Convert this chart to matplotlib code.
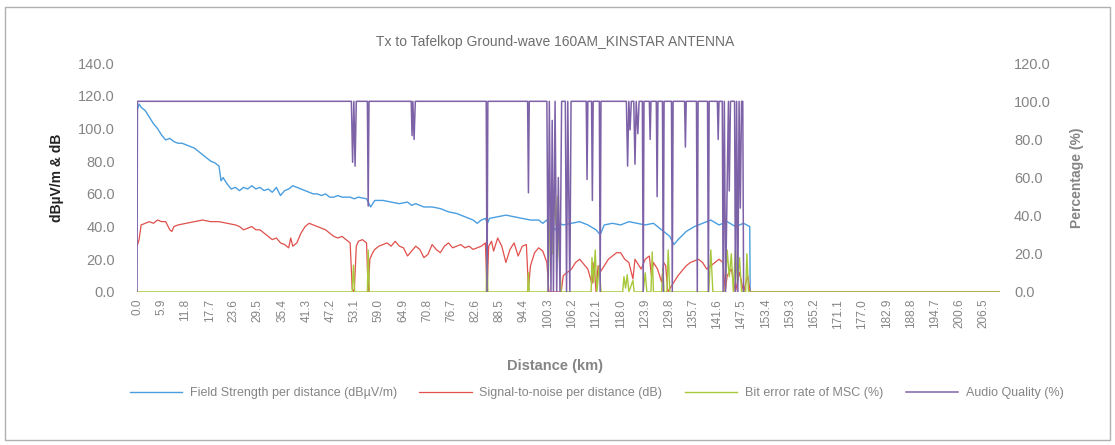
import matplotlib
matplotlib.use("Agg")
import matplotlib.pyplot as plt
from matplotlib.patches import Rectangle

plt.rcParams['font.family'] = ['Liberation Sans', 'DejaVu Sans']

# ---- data (distance in km) ----
fs_km = [0.0, 0.5, 1.0, 2.0, 3.0, 4.0, 5.0, 6.0, 7.0, 8.0, 9.0, 10.0, 11.0, 12.0, 13.0, 14.0,
         15.0, 16.0, 17.0, 18.0, 19.0, 20.0, 20.5, 21.0, 22.0, 23.0, 24.0, 25.0, 26.0, 27.0,
         28.0, 29.0, 30.0, 31.0, 32.0, 33.0, 34.0, 35.0, 36.0, 37.0, 38.0, 39.0, 40.0, 41.0,
         42.0, 43.0, 44.0, 45.0, 46.0, 47.0, 48.0, 49.0, 50.0, 52.0, 53.0, 54.0, 56.0, 57.0,
         58.0, 60.0, 62.0, 64.0, 66.0, 67.0, 68.0, 70.0, 72.0, 74.0, 76.0, 78.0, 80.0, 82.0,
         83.0, 84.0, 85.0, 85.5, 86.0, 88.0, 90.0, 92.0, 94.0, 96.0, 98.0, 99.0, 100.0, 101.0,
         102.0, 103.0, 104.0, 106.0, 108.0, 110.0, 112.0, 113.0, 114.0, 116.0, 118.0, 120.0,
         122.0, 124.0, 126.0, 128.0, 130.0, 131.0, 132.0, 134.0, 136.0, 138.0, 140.0, 142.0,
         144.0, 146.0, 148.0, 149.5, 149.6, 210.6]
fs_val = [111, 115, 113, 111, 107, 103, 100, 96, 93, 94, 92, 91, 91, 90, 89, 88,
          86, 84, 82, 80, 79, 77, 68, 70, 66, 63, 64, 62, 64, 63,
          65, 63, 64, 62, 63, 61, 64, 59, 62, 63, 65, 64, 63, 62,
          61, 60, 60, 59, 60, 58, 58, 59, 58, 58, 57, 58, 57, 52,
          56, 56, 55, 54, 55, 53, 54, 52, 52, 51, 49, 48, 46, 44,
          42, 44, 45, 42, 45, 46, 47, 46, 45, 44, 44, 42, 44, 40,
          38, 42, 41, 42, 43, 41, 38, 35, 41, 42, 41, 43,
          42, 41, 42, 38, 34, 29, 32, 37, 40, 42, 44, 41,
          43, 40, 42, 40, 0, 0]

snr_km = [0.0, 0.5, 1.0, 2.0, 3.0, 4.0, 5.0, 6.0, 7.0, 8.0, 8.5, 9.0, 10.0, 12.0, 14.0, 16.0,
          18.0, 20.0, 22.0, 24.0, 25.0, 26.0, 27.0, 28.0, 29.0, 30.0, 31.0, 32.0, 33.0, 34.0,
          35.0, 36.0, 37.0, 37.5, 38.0, 39.0, 40.0, 41.0, 42.0, 43.0, 44.0, 45.0, 46.0, 47.0,
          48.0, 49.0, 50.0, 51.0, 52.0, 52.5, 53.0, 53.5, 54.0, 55.0, 56.0, 56.4, 56.8, 57.5,
          58.0, 59.0, 60.0, 61.0, 62.0, 63.0, 64.0, 65.0, 66.0, 67.0, 68.0, 69.0, 70.0, 71.0,
          72.0, 73.0, 74.0, 75.0, 76.0, 77.0, 78.0, 79.0, 80.0, 81.0, 82.0, 83.0, 84.0, 85.0,
          85.4, 85.8, 86.5, 87.0, 88.0, 89.0, 90.0, 91.0, 92.0, 93.0, 94.0, 95.0, 95.5, 96.0,
          97.0, 98.0, 99.0, 100.0, 100.5, 103.5, 104.0, 105.0, 106.0, 107.0, 108.0, 109.0,
          110.0, 111.0, 111.5, 112.0, 112.5, 113.0, 114.0, 115.0, 116.0, 117.0, 118.0, 119.0,
          120.0, 121.0, 121.5, 122.0, 123.0, 124.0, 125.0, 125.5, 126.0, 127.0, 128.0, 128.5,
          129.0, 129.5, 130.0, 131.0, 132.0, 133.0, 134.0, 135.0, 136.0, 137.0, 138.0, 139.0,
          140.0, 141.0, 142.0, 143.0, 143.5, 144.0, 145.0, 146.0, 147.0, 148.0, 149.0, 149.6,
          210.6]
snr_val = [28, 32, 41, 42, 43, 42, 44, 43, 43, 38, 37, 40, 41, 42, 43, 44,
           43, 43, 42, 41, 40, 38, 39, 40, 38, 38, 36, 34, 32, 33,
           30, 29, 27, 33, 28, 30, 36, 40, 42, 41, 40, 39, 38, 36,
           34, 33, 34, 32, 30, 2, 0, 28, 31, 32, 30, 0, 20, 24,
           26, 28, 29, 30, 28, 31, 28, 27, 22, 25, 28, 26, 21, 23,
           29, 26, 24, 28, 30, 27, 28, 29, 27, 28, 26, 27, 28, 30,
           0, 28, 31, 25, 33, 28, 18, 26, 30, 22, 28, 29, 2, 16,
           24, 27, 25, 18, 0, 0, 10, 12, 14, 18, 20, 17,
           14, 5, 18, 0, 16, 12, 16, 20, 22, 24, 24, 20,
           18, 8, 20, 18, 14, 20, 22, 10, 18, 14, 6, 18,
           16, 0, 2, 6, 10, 13, 16, 18, 19, 20, 18, 14,
           16, 18, 20, 18, 0, 10, 14, 0, 12, 0, 10, 0,
           0]

ber_km = [0.0, 52.5, 52.8, 53.1, 56.2, 56.4, 56.7, 85.2, 85.4, 85.6, 95.3, 95.5, 95.7,
          100.3, 100.6, 101.0, 101.4, 101.8, 102.2, 102.6, 103.0, 103.5, 110.8, 111.0,
          111.4, 111.8, 112.2, 112.8, 113.2, 118.5, 118.8, 119.2, 119.6, 120.0, 121.0,
          121.3, 123.5, 124.0, 124.4, 125.4, 125.7, 126.0, 128.0, 128.3, 128.6, 129.3,
          129.6, 130.0, 139.5, 140.0, 140.5, 143.5, 144.0, 144.5, 145.0, 145.5, 146.0,
          146.5, 147.0, 147.5, 148.5, 148.8, 149.2, 210.6]
ber_val = [0, 0, 14, 0, 0, 22, 0, 0, 28, 0, 0, 10, 0,
           0, 30, 45, 20, 55, 35, 50, 20, 0, 0, 18,
           5, 22, 0, 14, 0, 0, 8, 2, 9, 0, 6,
           0, 0, 10, 0, 0, 21, 0, 0, 12, 0, 0,
           22, 0, 0, 22, 0, 0, 22, 8, 20, 0, 22,
           5, 18, 0, 0, 20, 0, 0]

aq_km = [0.0, 0.1, 52.3, 52.6, 52.9, 53.2, 53.5, 56.2, 56.4, 56.6, 66.9, 67.1, 67.3, 67.6,
         67.9, 85.2, 85.4, 85.6, 95.3, 95.5, 95.7, 100.0, 100.3, 100.6, 101.0, 101.3, 101.6,
         102.0, 102.4, 102.8, 103.2, 103.6, 104.5, 104.8, 105.1, 105.6, 105.9, 106.2, 109.6,
         109.8, 110.0, 110.9, 111.1, 111.3, 112.8, 113.0, 113.2, 119.4, 119.7, 120.0, 120.3,
         120.6, 121.2, 121.5, 121.8, 122.2, 122.5, 123.3, 123.5, 123.7, 125.0, 125.2, 125.4,
         126.7, 126.9, 127.1, 128.2, 128.4, 128.6, 130.4, 130.6, 130.8, 133.6, 133.8, 134.0,
         136.5, 136.7, 136.9, 139.2, 139.4, 139.6, 141.6, 141.8, 142.0, 142.8, 143.0, 143.3,
         143.6, 144.3, 144.5, 144.8, 145.8, 146.0, 146.3, 146.6, 146.9, 147.2, 147.5, 147.8,
         148.0]
aq_val = [0, 100, 100, 68, 100, 66, 100, 100, 45, 100, 100, 82, 100, 80,
          100, 100, 0, 100, 100, 52, 100, 100, 0, 100, 0, 90, 0,
          100, 0, 60, 0, 100, 100, 0, 100, 0, 100, 100, 100,
          59, 100, 100, 48, 100, 100, 0, 100, 100, 66, 100, 85,
          100, 100, 67, 100, 83, 100, 100, 0, 100, 100, 80, 100,
          100, 50, 100, 100, 0, 100, 100, 0, 100, 100, 76, 100,
          100, 0, 100, 100, 0, 100, 100, 80, 100, 100, 0, 100,
          0, 100, 53, 100, 100, 0, 100, 0, 100, 44, 100, 100,
          0]

x_ticks = [0.0, 5.9, 11.8, 17.7, 23.6, 29.5, 35.4, 41.3, 47.2, 53.1, 59.0, 64.9, 70.8, 76.7,
           82.6, 88.5, 94.4, 100.3, 106.2, 112.1, 118.0, 123.9, 129.8, 135.7, 141.6, 147.5,
           153.4, 159.3, 165.2, 171.1, 177.0, 182.9, 188.8, 194.7, 200.6, 206.5]

c_fs = '#4a9ee0'
c_snr = '#e0504c'
c_ber = '#a8c83a'
c_aq = '#7e62a8'
grey = '#858585'

fig = plt.figure(figsize=(11.15, 4.45), dpi=100)
fig.patches.append(Rectangle((0.0045, 0.011), 0.991, 0.973, transform=fig.transFigure,
                             fill=False, edgecolor='#b0b0b0', linewidth=1.0))

ax = fig.add_axes([0.1229, 0.344, 0.7741, 0.514])
ax2 = ax.twinx()

l1, = ax.plot(fs_km, fs_val, color=c_fs, lw=1.0)
l2, = ax.plot(snr_km, snr_val, color=c_snr, lw=0.9)
l3, = ax2.plot(ber_km, ber_val, color=c_ber, lw=1.0)
l4, = ax2.plot(aq_km, aq_val, color=c_aq, lw=1.1)

ax.set_xlim(0, 210.6)
ax.set_ylim(0, 140)
ax2.set_ylim(0, 120)
ax.set_yticks(range(0, 141, 20))
ax.set_yticklabels([f"{v:.1f}" for v in range(0, 141, 20)])
ax2.set_yticks(range(0, 121, 20))
ax2.set_yticklabels([f"{v:.1f}" for v in range(0, 121, 20)])
ax.set_xticks(x_ticks)
ax.set_xticklabels([f"{v:.1f}" for v in x_ticks], rotation=90)

for a in (ax, ax2):
    for s in a.spines.values():
        s.set_visible(False)
ax.tick_params(axis='y', length=0, pad=16, labelsize=10.5, labelcolor=grey)
ax2.tick_params(axis='y', length=0, pad=10, labelsize=10.5, labelcolor=grey)
ax.tick_params(axis='x', length=0, pad=5, labelsize=8.5, labelcolor=grey)

ax.set_ylabel("dBµV/m & dB", fontsize=10, fontweight='bold', color='#222222', labelpad=10)
ax2.set_ylabel("Percentage (%)", fontsize=10, fontweight='bold', color=grey, labelpad=14)

fig.text(0.498, 0.906, "Tx to Tafelkop Ground-wave 160AM_KINSTAR ANTENNA",
         ha='center', va='center', fontsize=10, color='#6e6e6e')
fig.text(0.498, 0.178, "Distance (km)", ha='center', va='center', fontsize=10.5,
         fontweight='bold', color=grey)

fig.legend([l1, l2, l3, l4],
           ["Field Strength per distance (dBµV/m)", "Signal-to-noise per distance (dB)",
            "Bit error rate of MSC (%)", "Audio Quality (%)"],
           loc='center', bbox_to_anchor=(0.535, 0.117), ncol=4, frameon=False,
           fontsize=9, handlelength=4.2, handletextpad=0.6, columnspacing=1.8,
           labelcolor=grey)

fig.savefig("out.png", dpi=100)
